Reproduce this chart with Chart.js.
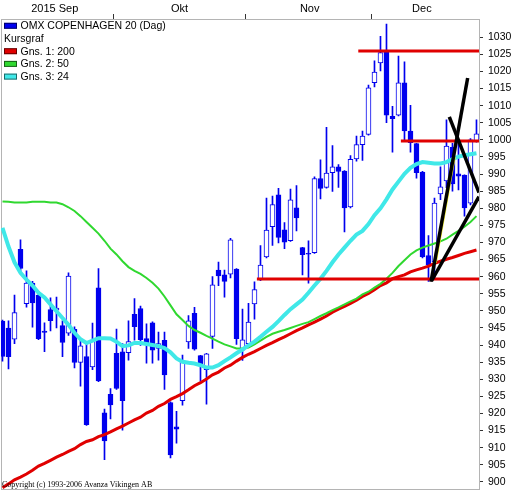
<!DOCTYPE html>
<html>
<head>
<meta charset="utf-8">
<title>OMX Copenhagen 20</title>
<script src="https://cdn.jsdelivr.net/npm/chart.js@4.4.1/dist/chart.umd.min.js"></script>
<style>
  html, body { margin: 0; padding: 0; background: #fff; }
  canvas { display: block; }
</style>
</head>
<body>
<canvas id="chart" width="515" height="501" style="width:515px;height:501px"></canvas>
<script>
// trading days, numbered from 4 Sep 2015
const days = Array.from({ length: 80 }, (_, i) => i + 1);

const openVals = [
  947.0, 945.0, 941.7, 968.0, 952.1, 958.1, 954.6, 944.1, 950.4, 950.2,
  945.7, 943.5, 944.6, 934.9, 936.6, 933.6, 956.7, 920.2, 925.6, 937.6,
  938.0, 937.8, 949.0, 950.7, 941.9, 946.5, 939.0, 941.4, 923.2, 916.1,
  923.7, 940.9, 949.3, 936.9, 932.8, 942.5, 961.9, 960.5, 960.7, 962.2,
  938.5, 940.4, 952.0, 959.1, 965.8, 974.6, 983.9, 973.7, 970.5, 980.1,
  968.5, 966.8, 967.0, 988.7, 986.1, 990.4, 992.1, 990.9, 980.4, 994.4,
  998.6, 1001.6, 1016.7, 1022.5, 1025.7, 1006.9, 1007.2, 1016.7, 1002.6, 998.9,
  990.6, 966.2, 964.3, 984.2, 988.0, 997.8, 990.1, 989.7, 981.5, 999.5
];
const highVals = [
  947.3, 947.1, 954.6, 970.8, 961.7, 958.6, 955.7, 946.5, 953.8, 954.0,
  947.1, 961.1, 945.3, 941.4, 940.4, 946.4, 962.4, 921.3, 927.3, 944.7,
  940.4, 947.1, 953.6, 951.4, 946.2, 946.8, 943.8, 943.8, 923.4, 920.6,
  937.1, 948.6, 951.0, 937.0, 937.6, 960.0, 964.3, 961.9, 971.2, 962.4,
  950.5, 952.2, 958.5, 969.1, 983.0, 983.6, 985.8, 975.8, 985.6, 986.6,
  968.6, 970.5, 989.2, 994.2, 1003.7, 998.3, 992.8, 991.0, 995.4, 1001.1,
  1002.6, 1016.0, 1023.1, 1030.3, 1033.9, 1009.8, 1024.5, 1022.8, 1010.1, 999.0,
  990.8, 972.0, 983.0, 992.1, 1005.9, 999.0, 999.2, 989.8, 1000.4, 1005.9
];
const lowVals = [
  935.3, 933.0, 940.4, 961.5, 951.1, 945.2, 941.6, 938.1, 944.1, 945.0,
  936.6, 942.8, 933.3, 928.0, 916.5, 932.8, 929.3, 906.5, 918.4, 927.0,
  915.1, 935.6, 941.4, 939.9, 934.7, 934.7, 935.6, 927.0, 907.0, 911.3,
  922.4, 939.0, 938.5, 929.5, 922.7, 939.0, 957.4, 954.0, 959.6, 940.2,
  935.5, 939.5, 947.6, 958.8, 965.5, 969.1, 969.9, 968.2, 970.3, 973.4,
  960.5, 958.1, 966.8, 982.7, 985.9, 984.9, 986.1, 973.1, 980.1, 993.8,
  994.0, 1001.4, 1015.5, 1020.2, 1005.0, 996.4, 1007.0, 999.7, 996.4, 988.8,
  965.5, 958.6, 959.1, 982.5, 986.0, 985.0, 985.4, 977.7, 981.0, 999.3
];
const closeVals = [
  936.7, 936.6, 949.5, 962.4, 958.1, 952.3, 941.9, 943.7, 947.1, 950.8,
  940.8, 960.2, 934.9, 939.8, 916.7, 941.4, 929.5, 912.0, 922.5, 927.3,
  923.7, 941.0, 945.4, 941.6, 940.7, 938.5, 940.4, 931.3, 907.9, 915.4,
  935.5, 947.1, 938.8, 934.5, 937.4, 957.6, 960.2, 958.6, 970.8, 941.9,
  941.5, 946.7, 956.2, 963.4, 973.6, 981.1, 971.5, 970.1, 982.5, 977.2,
  966.4, 966.6, 988.7, 985.8, 990.3, 992.1, 990.8, 980.1, 994.3, 998.6,
  1001.1, 1015.2, 1019.8, 1025.5, 1007.2, 1006.2, 1016.7, 1002.6, 999.2, 990.4,
  965.8, 963.4, 981.5, 986.3, 998.2, 987.1, 989.4, 980.1, 1000.0, 1001.8
];

// moving averages (200, 50, 24 days)
const ma200 = [
  898.3, 899.4, 900.6, 901.4, 902.3, 903.4, 904.6, 905.4, 906.3, 907.2,
  908.0, 908.9, 909.7, 910.9, 911.8, 912.3, 913.2, 913.8, 914.6, 915.5,
  916.3, 917.2, 918.1, 918.9, 920.1, 920.9, 922.1, 922.9, 924.1, 924.9,
  925.8, 926.9, 928.1, 929.0, 930.1, 931.3, 932.1, 933.3, 934.1, 935.3,
  936.4, 937.3, 938.1, 939.0, 939.9, 940.7, 941.6, 942.4, 943.3, 944.2,
  945.0, 945.9, 946.7, 947.6, 948.5, 949.6, 950.5, 951.3, 952.2, 953.1,
  954.2, 955.1, 956.2, 957.4, 958.2, 959.4, 960.0, 960.5, 961.4, 962.0,
  962.5, 963.1, 963.9, 964.5, 965.1, 965.6, 966.2, 966.8, 967.3, 967.8
];
const ma50 = [
  982.0, 981.9, 981.7, 981.7, 981.7, 981.9, 981.9, 981.9, 981.7, 981.7,
  981.2, 980.3, 979.2, 977.7, 976.0, 974.3, 972.6, 970.5, 968.2, 966.5,
  964.5, 962.8, 961.7, 960.8, 959.6, 958.2, 956.5, 954.2, 951.6, 949.0,
  947.3, 945.6, 944.4, 943.6, 942.7, 941.9, 941.0, 940.2, 939.6, 939.0,
  939.0, 939.3, 940.2, 941.3, 942.4, 943.3, 943.9, 944.4, 945.0, 945.6,
  946.2, 946.7, 947.6, 948.5, 949.3, 950.2, 951.0, 951.9, 952.8, 953.6,
  954.8, 955.6, 956.8, 957.9, 959.4, 961.1, 963.1, 964.8, 966.5, 967.7,
  968.5, 969.1, 969.7, 970.3, 971.1, 972.3, 973.4, 974.6, 976.0, 977.7
];
const ma24 = [
  974.3, 968.8, 964.2, 961.1, 959.1, 957.4, 955.3, 953.9, 951.9, 949.9,
  947.9, 945.9, 943.6, 941.7, 940.6, 941.3, 942.0, 942.0, 941.9, 941.0,
  939.7, 939.9, 940.6, 940.6, 940.3, 940.0, 939.7, 939.1, 937.9, 936.1,
  935.1, 934.8, 934.6, 934.1, 933.4, 933.4, 934.1, 935.3, 936.4, 937.6,
  938.7, 939.9, 941.0, 942.4, 943.9, 945.3, 947.0, 948.8, 950.5, 951.9,
  953.3, 955.3, 957.4, 959.4, 961.7, 964.2, 966.5, 968.5, 970.5, 972.3,
  973.4, 975.4, 978.0, 980.0, 982.6, 985.5, 987.8, 990.1, 991.8, 992.9,
  993.5, 993.3, 993.1, 993.1, 993.5, 994.4, 995.1, 995.5, 995.8, 996.1
];

// drawn support / resistance levels: value and first day
const levelVals = [1026.0, 999.7, 959.3];
const levelFrom = [60.3, 67.4, 43.4];

// drawn trend lines as [day, value] end points
const trendA = [[72.42, 958.5], [78.53, 1018.1]];
const trendB = [[75.47, 1006.7], [80.42, 984.6]];
const trendC = [[72.53, 958.8], [80.42, 983.4]];
const trendYellow = [[73.25, 964.0], [76.42, 995.0]];

// axis labels
const monthLabels = ['2015 Sep', 'Okt', 'Nov', 'Dec'];
const monthLabelAt = [9.7, 30.5, 52.2, 70.9];
const monthBounds = [19.5, 41.5, 62.5];
const yTickVals = [900, 905, 910, 915, 920, 925, 930, 935, 940, 945, 950, 955, 960,
  965, 970, 975, 980, 985, 990, 995, 1000, 1005, 1010, 1015, 1020, 1025, 1030];

const X_MIN = 0.75, X_MAX = 80.42;
const Y_MIN = 897.7, Y_MAX = 1035.35;

const BLUE = '#0000ee';
const RED = '#e00000';
const GREEN = '#30d830';
const CYAN = '#40e8e8';
const FONT = '"Liberation Sans", Arial, sans-serif';

const isDown = i => closeVals[i] < openVals[i];
const toPoints = arr => arr.map(p => ({ x: p[0], y: p[1] }));

function lineSet(label, data, color, width, order) {
    return {
        type: 'line', label, data, borderColor: color, borderWidth: width,
        pointRadius: 0, tension: 0, order, xAxisID: 'x', yAxisID: 'y'
    };
}

const datasets = [
    {
        type: 'bar',
        label: 'OMX COPENHAGEN 20 (Dag)',
        legendColor: BLUE,
        data: days.map((d, i) => ({ x: d, y: [openVals[i], closeVals[i]] })),
        backgroundColor: ctx => isDown(ctx.dataIndex) ? BLUE : '#ffffff',
        borderColor: BLUE,
        borderWidth: 1,
        borderSkipped: false,
        barThickness: 5,
        grouped: false,
        order: 9,
        xAxisID: 'x', yAxisID: 'y'
    },
    {
        type: 'bar',
        label: 'wick',
        data: days.map((d, i) => ({ x: d, y: [lowVals[i], highVals[i]] })),
        backgroundColor: BLUE,
        borderWidth: 0,
        barThickness: 1,
        grouped: false,
        order: 10,
        xAxisID: 'x', yAxisID: 'y'
    },
    Object.assign(lineSet('Gns. 1: 200', days.map((d, i) => ({ x: d, y: ma200[i] })), RED, 3, 8), { legendColor: RED }),
    Object.assign(lineSet('Gns. 2: 50', days.map((d, i) => ({ x: d, y: ma50[i] })), GREEN, 2, 7), { legendColor: GREEN }),
    Object.assign(lineSet('Gns. 3: 24', days.map((d, i) => ({ x: d, y: ma24[i] })), CYAN, 4, 6), { legendColor: CYAN })
];

levelVals.forEach((v, i) => {
    datasets.push(lineSet('level', [{ x: levelFrom[i], y: v }, { x: X_MAX, y: v }], RED, 3, 5));
});
datasets.push(lineSet('trend', toPoints(trendYellow), '#f0f020', 1.5, 4));
[trendA, trendB, trendC].forEach(t => datasets.push(lineSet('trend', toPoints(t), '#000000', 3.5, 3)));

/* legend block and copyright note inside the plot */
const overlayText = {
    id: 'overlayText',
    afterDraw(chart) {
        const { ctx, chartArea } = chart;
        const sets = chart.data.datasets.filter(d => d.legendColor);
        const rows = [sets[0], 'Kursgraf', sets[1], sets[2], sets[3]];
        ctx.save();
        ctx.font = '10.5px ' + FONT;
        ctx.textBaseline = 'alphabetic';
        let y = chartArea.top + 10.3;
        rows.forEach(r => {
            const x = chartArea.left + 3;
            ctx.fillStyle = '#000';
            if (typeof r === 'string') {
                ctx.fillText(r, x, y);
            } else {
                ctx.fillStyle = r.legendColor;
                ctx.fillRect(x, y - 6.5, 13, 6);
                ctx.strokeStyle = 'rgba(0,0,0,0.55)';
                ctx.lineWidth = 1;
                ctx.strokeRect(x + 0.5, y - 6, 12, 5);
                ctx.fillStyle = '#000';
                ctx.fillText(r.label, x + 16.5, y);
            }
            y += 12.7;
        });
        ctx.font = '8px "Liberation Serif", "Times New Roman", serif';
        ctx.fillText('Copyright (c) 1993-2006 Avanza Vikingen AB', chartArea.left + 1, chartArea.bottom - 3);
        ctx.restore();
    }
};

const chart = new Chart(document.getElementById('chart'), {
    data: { datasets },
    options: {
        responsive: false,
        animation: false,
        devicePixelRatio: 1,
        layout: { padding: 0 },
        plugins: { legend: { display: false }, tooltip: { enabled: false } },
        scales: {
            x: {
                type: 'linear', position: 'bottom', min: X_MIN, max: X_MAX, offset: false,
                ticks: { display: false },
                grid: { display: false, drawTicks: false },
                border: { display: true, color: '#b4b4b4' },
                afterFit: s => { s.height = 2; }
            },
            xMonth: {
                type: 'linear', position: 'top', min: X_MIN, max: X_MAX, weight: 5,
                afterBuildTicks: s => { s.ticks = monthLabelAt.map(v => ({ value: v })); },
                ticks: {
                    callback: (v, i) => monthLabels[i],
                    autoSkip: false, maxRotation: 0, padding: 0,
                    color: '#000', font: { family: FONT, size: 11, lineHeight: 1 }
                },
                grid: { display: false, drawTicks: false },
                border: { display: false },
                afterFit: s => { s.height = 14; }
            },
            xTick: {
                type: 'linear', position: 'top', min: X_MIN, max: X_MAX, weight: 1,
                afterBuildTicks: s => { s.ticks = monthBounds.map(v => ({ value: v })); },
                ticks: { display: false },
                grid: { drawOnChartArea: false, tickLength: 5, color: '#333' },
                border: { display: true, color: '#b4b4b4' },
                afterFit: s => { s.height = 5; }
            },
            y: {
                type: 'linear', position: 'right', min: Y_MIN, max: Y_MAX,
                afterBuildTicks: s => { s.ticks = yTickVals.map(v => ({ value: v })); },
                ticks: {
                    callback: v => String(v),
                    autoSkip: false, padding: 5, color: '#000', font: { family: FONT, size: 10.5 }
                },
                grid: { drawOnChartArea: false, tickLength: 4, color: '#333' },
                border: { display: true, color: '#b4b4b4' },
                afterFit: s => { s.width = 36; }
            },
            yLeft: {
                type: 'linear', position: 'left', display: true,
                ticks: { display: false },
                grid: { display: false, drawTicks: false },
                border: { display: true, color: '#b4b4b4' },
                afterFit: s => { s.width = 1; }
            }
        }
    },
    plugins: [overlayText]
});
</script>
</body>
</html>
